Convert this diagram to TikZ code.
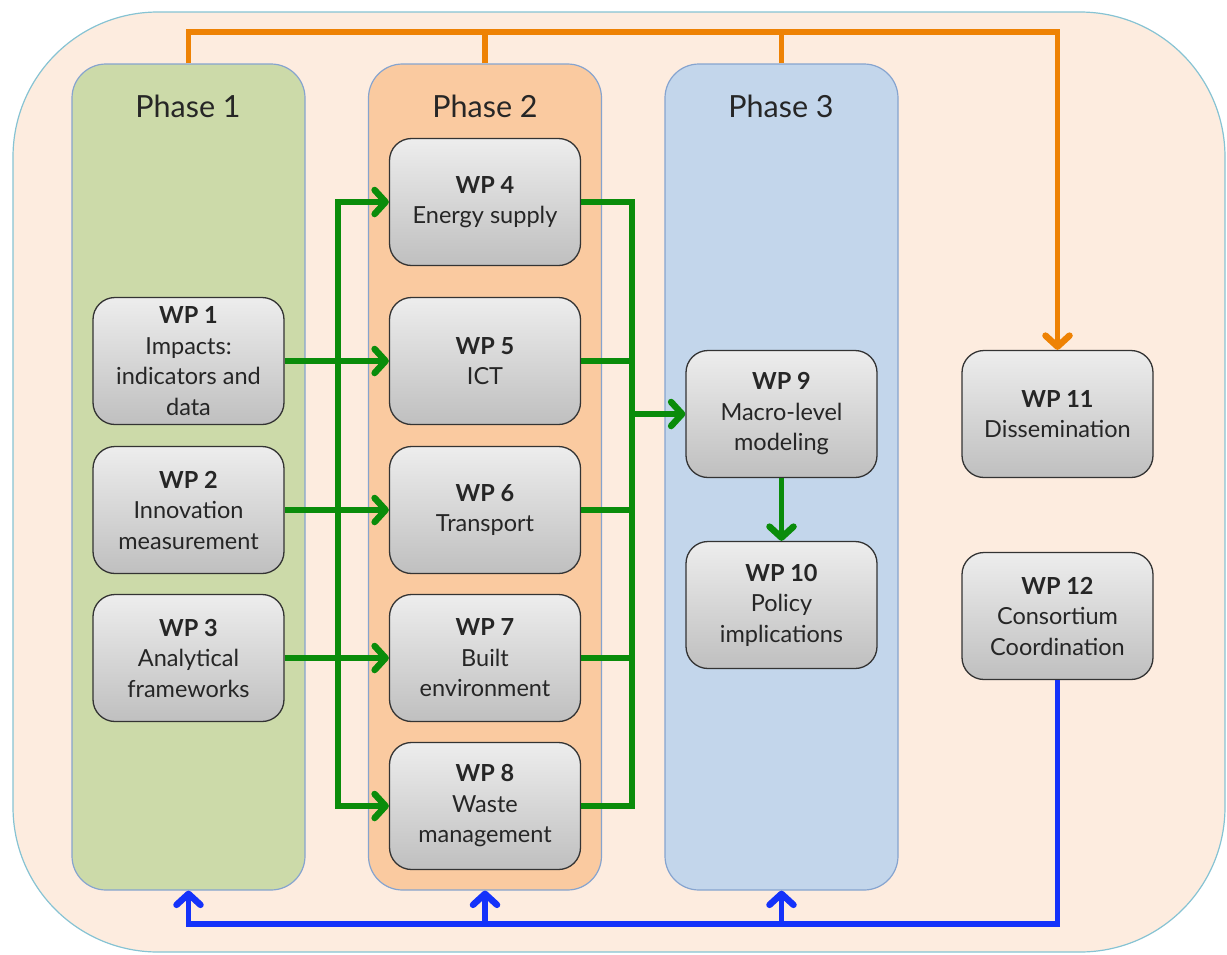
\documentclass[tikz,border=0pt]{standalone}
\usepackage{fontspec}
\setmainfont{Lato}
\usetikzlibrary{arrows.meta}
\tikzset{barb/.tip={Straight Barb[length=11pt,width=24pt,line width=6.5pt,round]}}

\definecolor{frame}{HTML}{FDECDF}
\definecolor{frameline}{HTML}{86C3D3}
\definecolor{phaseline}{HTML}{86A4CF}
\definecolor{green1}{HTML}{CCDAA9}
\definecolor{orange2}{HTML}{FACAA0}
\definecolor{blue3}{HTML}{C3D6EB}
\definecolor{flowgreen}{HTML}{0A8C0A}
\definecolor{dissorange}{HTML}{EE8204}
\definecolor{coordblue}{HTML}{1432FA}

\tikzset{
  phase/.style={draw=phaseline, line width=1.2pt, rounded corners=34pt,
    minimum width=233pt, minimum height=826pt},
  phasetitle/.style={font=\fontsize{30.5}{36}\selectfont, text=black!85},
  wp/.style={draw=black!80, line width=1.3pt, rounded corners=22pt,
    top color=black!7, bottom color=black!25,
    minimum width=191pt, minimum height=127pt, align=center,
    font=\fontsize{23.5}{30.5}\selectfont, text=black!85},
  flow/.style={draw=flowgreen, line width=5.5pt},
  dissem/.style={draw=dissorange, line width=5.5pt},
  coord/.style={draw=coordblue, line width=5.5pt}
}

\begin{document}
\begin{tikzpicture}[x=1pt,y=-1pt]
    \useasboundingbox (0,0) rectangle (1227,954);
    % outer frame
    \draw[frameline, fill=frame, line width=1.2pt, rounded corners=145pt]
        (13,12) rectangle (1225,952);

    % phases
    \node[phase, fill=green1]  (ph1) at (188.5,477) {};
    \node[phase, fill=orange2] (ph2) at (485,477) {};
    \node[phase, fill=blue3]   (ph3) at (781.5,477) {};
    \node[phasetitle] at (188,106) {Phase 1};
    \node[phasetitle] at (485,106) {Phase 2};
    \node[phasetitle] at (781,106) {Phase 3};

    % work packages
    \node[wp] (wp1) at (188.5,361) {\textbf{WP 1}\\Impacts:\\indicators and\\data};
    \node[wp] (wp2) at (188.5,510) {\textbf{WP 2}\\Innovation\\measurement};
    \node[wp] (wp3) at (188.5,658) {\textbf{WP 3}\\Analytical\\frameworks};
    \node[wp] (wp4) at (485,202) {\textbf{WP 4}\\Energy supply};
    \node[wp] (wp5) at (485,361) {\textbf{WP 5}\\ICT};
    \node[wp] (wp6) at (485,510) {\textbf{WP 6}\\Transport};
    \node[wp] (wp7) at (485,658) {\textbf{WP 7}\\Built\\environment};
    \node[wp] (wp8) at (485,806) {\textbf{WP 8}\\Waste\\management};
    \node[wp] (wp9) at (781.5,414) {\textbf{WP 9}\\Macro-level\\modeling};
    \node[wp] (wp10) at (781.5,605) {\textbf{WP 10}\\Policy\\implications};
    \node[wp] (wp11) at (1057.5,414) {\textbf{WP 11}\\Dissemination};
    \node[wp] (wp12) at (1057.5,616) {\textbf{WP 12}\\Consortium\\Coordination};

    % bus lines and corners
    \coordinate (lbus) at (338,500);
    \coordinate (rbus) at (632,500);
    \coordinate (otop) at (1057.5,32);
    \coordinate (bbot) at (1057.5,924);

    % phase 1 -> phase 2
    \draw[flow, -barb] (wp1.east) -- (wp5.west);
    \draw[flow, -barb] (wp2.east) -- (wp6.west);
    \draw[flow, -barb] (wp3.east) -- (wp7.west);
    \draw[flow, barb-barb] (wp4.west) -| (lbus) |- (wp8.west);

    % phase 2 -> phase 3
    \draw[flow] (wp4.east) -| (rbus) |- (wp8.east);
    \draw[flow] (wp5.east) -- (rbus |- wp5.east);
    \draw[flow] (wp6.east) -- (rbus |- wp6.east);
    \draw[flow] (wp7.east) -- (rbus |- wp7.east);
    \draw[flow, -barb] (rbus |- wp9.west) -- (wp9.west);
    \draw[flow, -barb] (wp9.south) -- (wp10.north);

    % dissemination
    \draw[dissem, -barb] (ph1.north) |- (otop) -- (wp11.north);
    \draw[dissem] (ph2.north) -- (ph2.north |- otop);
    \draw[dissem] (ph3.north) -- (ph3.north |- otop);

    % coordination
    \draw[coord, -barb] (wp12.south) -- (bbot) -| (ph1.south);
    \draw[coord, -barb] (ph2.south |- bbot) -- (ph2.south);
    \draw[coord, -barb] (ph3.south |- bbot) -- (ph3.south);
\end{tikzpicture}
\end{document}
